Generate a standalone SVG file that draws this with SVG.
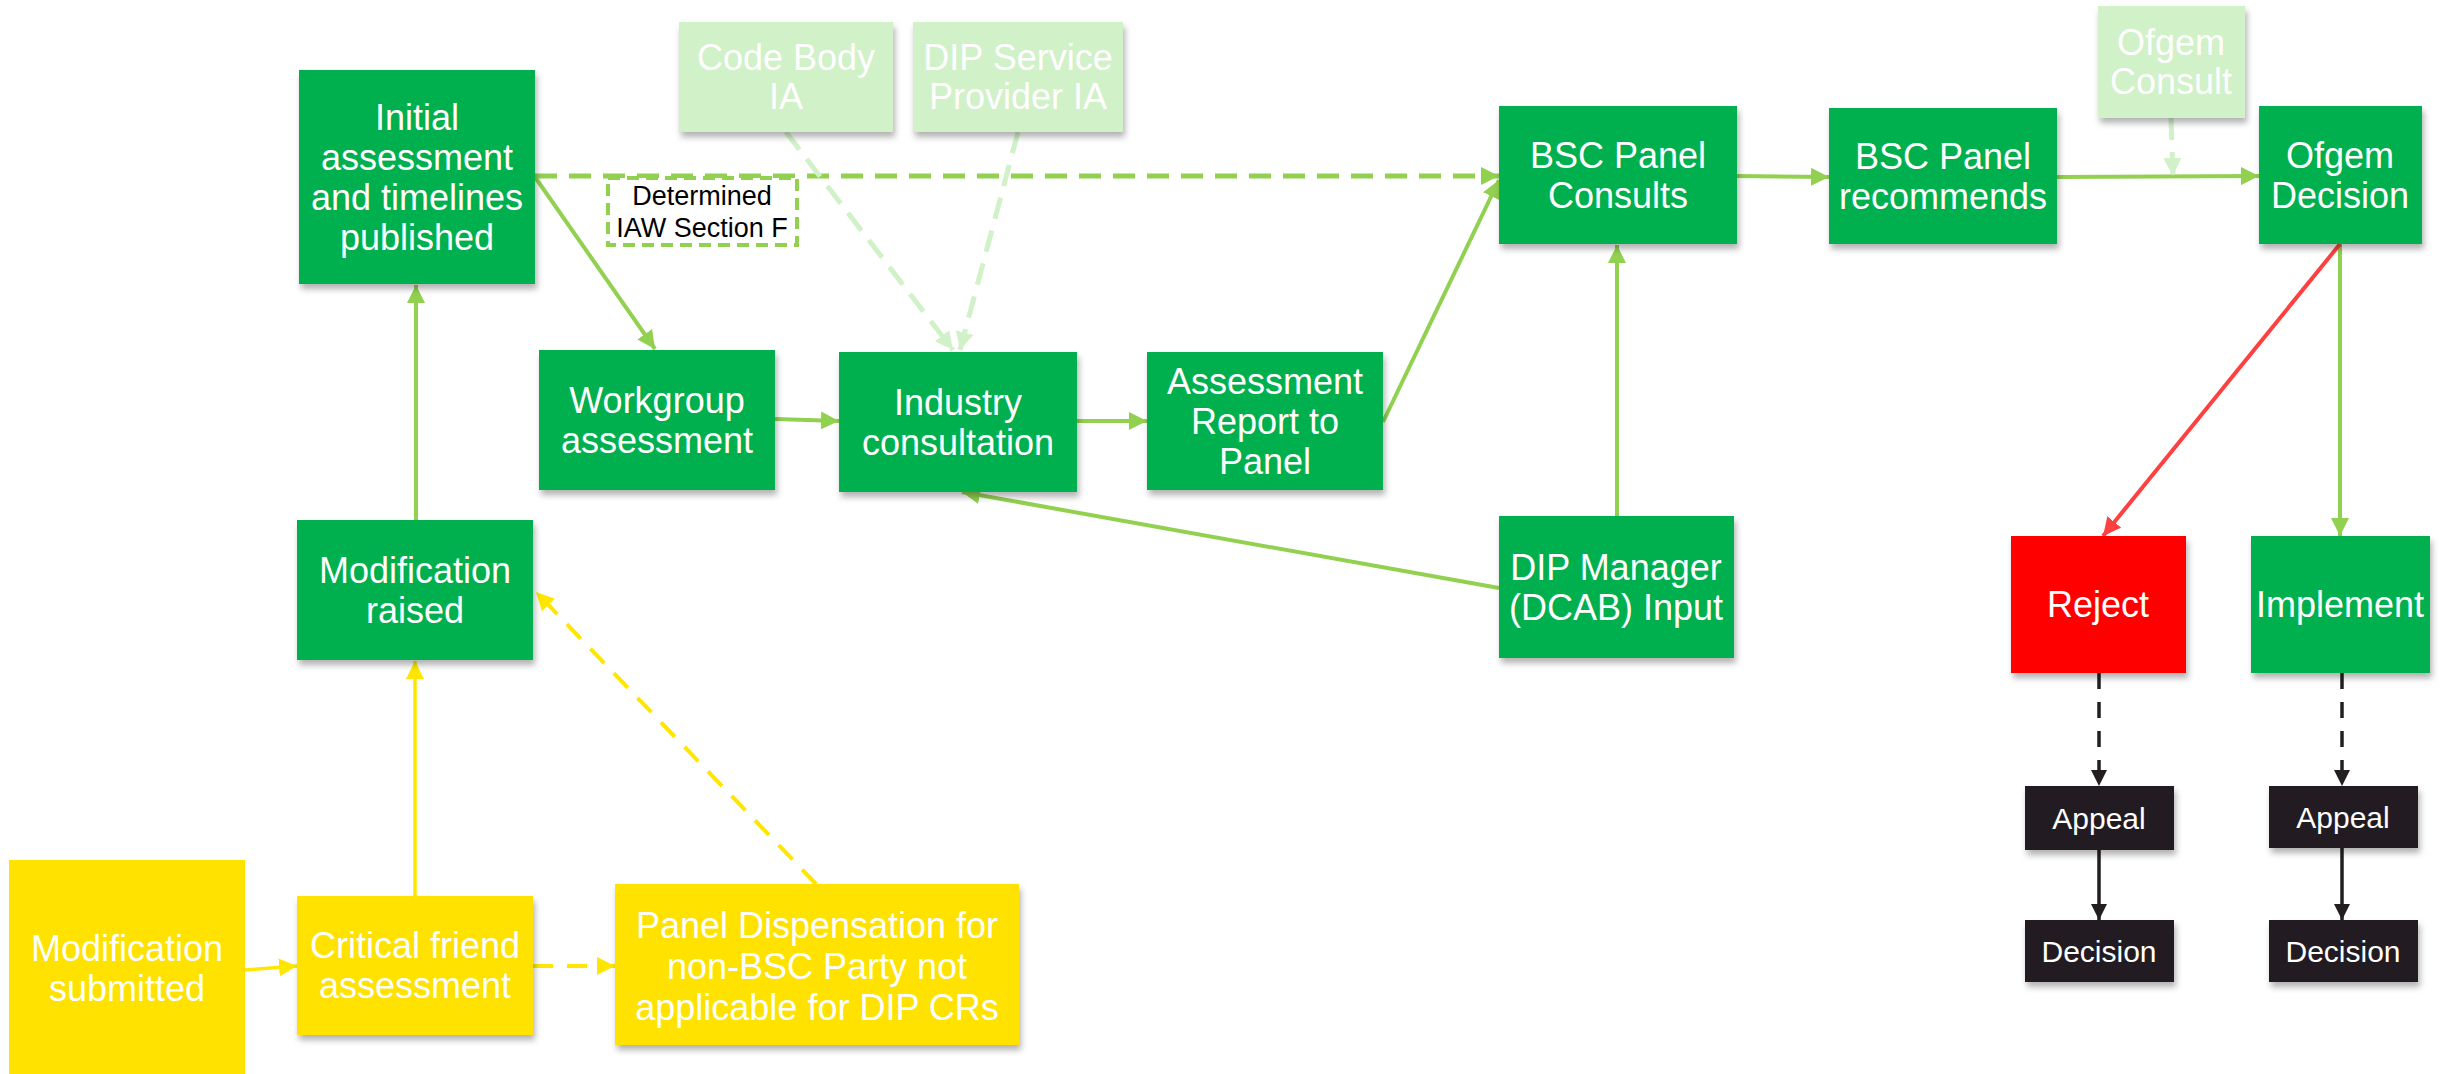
<svg xmlns="http://www.w3.org/2000/svg" width="2451" height="1074" viewBox="0 0 2451 1074">
<style>
text{font-family:"Liberation Sans",Arial,sans-serif;fill:#fff;text-anchor:middle;font-size:36px}
.g{fill:#00B050}
.lg{fill:#D1F1C9}
.y{fill:#FFE200}
.r{fill:#FF0000}
.k{fill:#231F20}
.small{font-size:30px}
.lbl{font-size:27px;fill:#000}
.cg{stroke:#92D050;stroke-width:4;fill:none}
.cgd{stroke:#92D050;stroke-width:5;fill:none;stroke-dasharray:22 12}
.clg{stroke:#D1F1C9;stroke-width:5;fill:none;stroke-dasharray:22 12}
.cy{stroke:#FFE600;stroke-width:3.5;fill:none}
.cyd{stroke:#FFE600;stroke-width:4;fill:none;stroke-dasharray:20 14}
.cr{stroke:#FF4040;stroke-width:4;fill:none}
.ck{stroke:#231F20;stroke-width:3.5;fill:none}
.ckd{stroke:#231F20;stroke-width:3.5;fill:none;stroke-dasharray:16 13}
</style>
<defs>
<filter id="sh" x="-10%" y="-10%" width="130%" height="130%">
<feDropShadow dx="2" dy="5" stdDeviation="3" flood-color="#000" flood-opacity="0.3"/>
</filter>
<marker id="ag" markerUnits="userSpaceOnUse" markerWidth="18" markerHeight="18" viewBox="0 0 16 16" refX="16" refY="8" orient="auto"><path d="M0,0 L16,8 L0,16 z" fill="#92D050"/></marker>
<marker id="alg" markerUnits="userSpaceOnUse" markerWidth="18" markerHeight="18" viewBox="0 0 16 16" refX="16" refY="8" orient="auto"><path d="M0,0 L16,8 L0,16 z" fill="#D1F1C9"/></marker>
<marker id="ay" markerUnits="userSpaceOnUse" markerWidth="18" markerHeight="18" viewBox="0 0 16 16" refX="16" refY="8" orient="auto"><path d="M0,0 L16,8 L0,16 z" fill="#FFE600"/></marker>
<marker id="ar" markerUnits="userSpaceOnUse" markerWidth="18" markerHeight="18" viewBox="0 0 16 16" refX="16" refY="8" orient="auto"><path d="M0,0 L16,8 L0,16 z" fill="#FF4040"/></marker>
<marker id="ak" markerUnits="userSpaceOnUse" markerWidth="16" markerHeight="16" viewBox="0 0 16 16" refX="16" refY="8" orient="auto"><path d="M0,0 L16,8 L0,16 z" fill="#231F20"/></marker>
</defs>

<g id="connectors">
<line class="cg" x1="416" y1="520" x2="416" y2="285" marker-end="url(#ag)"/>
<line class="cg" x1="535" y1="177" x2="655" y2="349" marker-end="url(#ag)"/>
<line class="cg" x1="775" y1="419" x2="839" y2="421" marker-end="url(#ag)"/>
<line class="cg" x1="1077" y1="421" x2="1147" y2="421" marker-end="url(#ag)"/>
<line class="cg" x1="1383" y1="422" x2="1499" y2="180" marker-end="url(#ag)"/>
<line class="cg" x1="1617" y1="516" x2="1617" y2="245" marker-end="url(#ag)"/>
<line class="cg" x1="1499" y1="588" x2="962" y2="492" marker-end="url(#ag)"/>
<line class="cg" x1="1737" y1="176" x2="1829" y2="177" marker-end="url(#ag)"/>
<line class="cg" x1="2057" y1="177" x2="2259" y2="176" marker-end="url(#ag)"/>
<line class="cg" x1="2340" y1="244" x2="2340" y2="536" marker-end="url(#ag)"/>
<line class="cgd" x1="535" y1="176" x2="1499" y2="176" marker-end="url(#ag)"/>
<line class="clg" x1="786" y1="132" x2="953" y2="350" marker-end="url(#alg)"/>
<line class="clg" x1="1018" y1="132" x2="960" y2="350" marker-end="url(#alg)"/>
<line class="clg" x1="2171" y1="118" x2="2173" y2="176" marker-end="url(#alg)"/>
<line class="cr" x1="2340" y1="244" x2="2103" y2="536" marker-end="url(#ar)"/>
<line class="cy" x1="245" y1="970" x2="297" y2="966" marker-end="url(#ay)"/>
<line class="cy" x1="415" y1="896" x2="415" y2="661" marker-end="url(#ay)"/>
<line class="cyd" x1="533" y1="966" x2="615" y2="966" marker-end="url(#ay)"/>
<line class="cyd" x1="816" y1="884" x2="536" y2="592" marker-end="url(#ay)"/>
<line class="ckd" x1="2099" y1="673" x2="2099" y2="786" marker-end="url(#ak)"/>
<line class="ckd" x1="2342" y1="673" x2="2342" y2="786" marker-end="url(#ak)"/>
<line class="ck" x1="2099" y1="850" x2="2099" y2="920" marker-end="url(#ak)"/>
<line class="ck" x1="2342" y1="848" x2="2342" y2="920" marker-end="url(#ak)"/>
</g>

<g id="label-determined">
<rect x="608" y="178" width="189" height="67" fill="#fff" stroke="#92D050" stroke-width="4" stroke-dasharray="12 7"/>
<text class="lbl" x="702" y="205">Determined</text>
<text class="lbl" x="702" y="237">IAW Section F</text>
</g>

<g id="n-initial"><rect class="g" x="299" y="70" width="236" height="214" filter="url(#sh)"/>
<text x="417" y="130">Initial</text><text x="417" y="170">assessment</text><text x="417" y="210">and timelines</text><text x="417" y="250">published</text></g>

<g id="n-workgroup"><rect class="g" x="539" y="350" width="236" height="140" filter="url(#sh)"/>
<text x="657" y="413">Workgroup</text><text x="657" y="453">assessment</text></g>

<g id="n-industry"><rect class="g" x="839" y="352" width="238" height="140" filter="url(#sh)"/>
<text x="958" y="415">Industry</text><text x="958" y="455">consultation</text></g>

<g id="n-report"><rect class="g" x="1147" y="352" width="236" height="138" filter="url(#sh)"/>
<text x="1265" y="394">Assessment</text><text x="1265" y="434">Report to</text><text x="1265" y="474">Panel</text></g>

<g id="n-consults"><rect class="g" x="1499" y="106" width="238" height="138" filter="url(#sh)"/>
<text x="1618" y="168">BSC Panel</text><text x="1618" y="208">Consults</text></g>

<g id="n-recommends"><rect class="g" x="1829" y="108" width="228" height="136" filter="url(#sh)"/>
<text x="1943" y="169">BSC Panel</text><text x="1943" y="209">recommends</text></g>

<g id="n-ofgem-decision"><rect class="g" x="2259" y="106" width="163" height="138" filter="url(#sh)"/>
<text x="2340" y="168">Ofgem</text><text x="2340" y="208">Decision</text></g>

<g id="n-codebody"><rect class="lg" x="679" y="22" width="214" height="110" filter="url(#sh)"/>
<text x="786" y="70">Code Body</text><text x="786" y="109">IA</text></g>

<g id="n-dipservice"><rect class="lg" x="913" y="22" width="210" height="110" filter="url(#sh)"/>
<text x="1018" y="70">DIP Service</text><text x="1018" y="109">Provider IA</text></g>

<g id="n-ofgem-consult"><rect class="lg" x="2098" y="6" width="147" height="112" filter="url(#sh)"/>
<text x="2171" y="55">Ofgem</text><text x="2171" y="94">Consult</text></g>

<g id="n-raised"><rect class="g" x="297" y="520" width="236" height="140" filter="url(#sh)"/>
<text x="415" y="583">Modification</text><text x="415" y="623">raised</text></g>

<g id="n-dipmanager"><rect class="g" x="1499" y="516" width="235" height="142" filter="url(#sh)"/>
<text x="1616" y="580">DIP Manager</text><text x="1616" y="620">(DCAB) Input</text></g>

<g id="n-reject"><rect class="r" x="2011" y="536" width="175" height="137" filter="url(#sh)"/>
<text x="2098" y="617">Reject</text></g>

<g id="n-implement"><rect class="g" x="2251" y="536" width="179" height="137" filter="url(#sh)"/>
<text x="2340" y="617">Implement</text></g>

<g id="n-appeal1"><rect class="k" x="2025" y="786" width="149" height="64" filter="url(#sh)"/>
<text class="small" x="2099" y="829">Appeal</text></g>
<g id="n-appeal2"><rect class="k" x="2269" y="786" width="149" height="62" filter="url(#sh)"/>
<text class="small" x="2343" y="828">Appeal</text></g>
<g id="n-decision1"><rect class="k" x="2025" y="920" width="149" height="62" filter="url(#sh)"/>
<text class="small" x="2099" y="962">Decision</text></g>
<g id="n-decision2"><rect class="k" x="2269" y="920" width="149" height="62" filter="url(#sh)"/>
<text class="small" x="2343" y="962">Decision</text></g>

<g id="n-submitted"><rect class="y" x="9" y="860" width="236" height="214"/>
<text x="127" y="961">Modification</text><text x="127" y="1001">submitted</text></g>

<g id="n-critical"><rect class="y" x="297" y="896" width="236" height="139" filter="url(#sh)"/>
<text x="415" y="958">Critical friend</text><text x="415" y="998">assessment</text></g>

<g id="n-dispensation"><rect class="y" x="615" y="884" width="404" height="161" filter="url(#sh)"/>
<text x="817" y="938">Panel Dispensation for</text><text x="817" y="979">non-BSC Party not</text><text x="817" y="1020">applicable for DIP CRs</text></g>
</svg>
